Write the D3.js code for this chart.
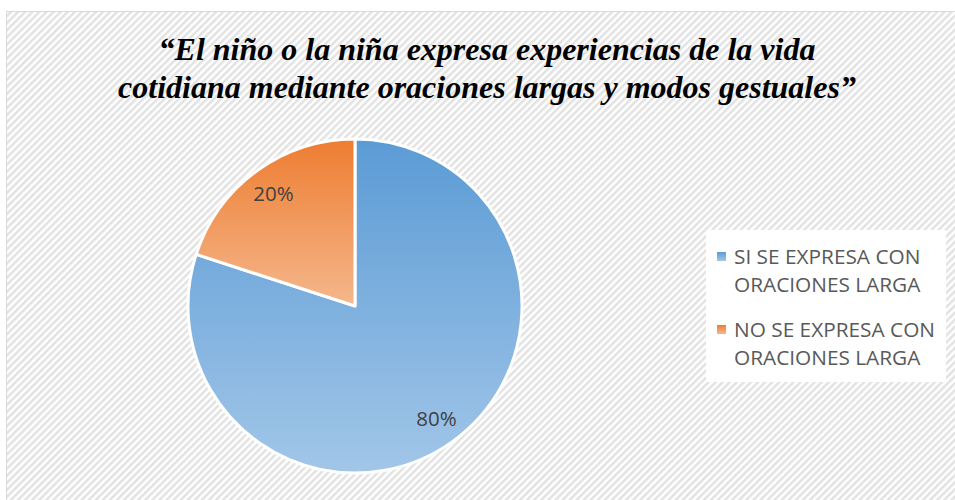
<!DOCTYPE html>
<html><head><meta charset="utf-8">
<script src="https://cdn.jsdelivr.net/npm/d3@7"></script>
<style>body{margin:0;background:#fff}svg{display:block}</style>
</head><body>
<script>
const titleLines = ["“El niño o la niña expresa experiencias de la vida", "cotidiana mediante oraciones largas y modos gestuales”"];
const categories = ["SI SE EXPRESA CON ORACIONES LARGA", "NO SE EXPRESA CON ORACIONES LARGA"];
const legendLines = [["SI SE EXPRESA CON", "ORACIONES LARGA"], ["NO SE EXPRESA CON", "ORACIONES LARGA"]];
const values = [80, 20];
const labels = ["80%", "20%"];
const colorsTop = ["#5b9bd5", "#ed7d31"];
const colorsBottom = ["#a2c6e8", "#f5b78c"];

const W = 955, H = 500;
const svg = d3.select("body").append("svg").attr("width", W).attr("height", H);
const defs = svg.append("defs");
const pat = defs.append("pattern").attr("id", "stripes").attr("patternUnits", "userSpaceOnUse")
  .attr("width", 5).attr("height", 5).attr("patternTransform", "rotate(45)");
pat.append("rect").attr("width", 5).attr("height", 5).attr("fill", "#ffffff");
pat.append("rect").attr("width", 2.5).attr("height", 5).attr("fill", "#e2e2e2");
categories.forEach((c, i) => {
  const g = defs.append("linearGradient").attr("id", "grad" + i).attr("x1", 0).attr("y1", 0).attr("x2", 0).attr("y2", 1);
  g.append("stop").attr("offset", "0%").attr("stop-color", colorsTop[i]);
  g.append("stop").attr("offset", "100%").attr("stop-color", colorsBottom[i]);
});

svg.append("rect").attr("x", 6.5).attr("y", 11.5).attr("width", W).attr("height", H)
  .attr("fill", "url(#stripes)").attr("stroke", "#d9d9d9").attr("stroke-width", 1);

const title = svg.append("text").attr("text-anchor", "middle")
  .attr("font-family", "'Liberation Serif', 'Times New Roman', serif")
  .attr("font-weight", "bold").attr("font-style", "italic").attr("font-size", 32).attr("fill", "#000");
titleLines.forEach((t, i) => title.append("tspan").attr("x", 487).attr("y", 60 + i * 37.5).text(t));

const cx = 355, cy = 306, r = 167;
const pie = d3.pie().sort(null).value(d => d)(values);
const arc = d3.arc().innerRadius(0).outerRadius(r);
const g = svg.append("g").attr("transform", `translate(${cx},${cy})`);
g.selectAll("path").data(pie).join("path")
  .attr("d", arc).attr("fill", (d, i) => `url(#grad${i})`)
  .attr("stroke", "#fff").attr("stroke-width", 3).attr("stroke-linejoin", "round");
const labelArc = d3.arc().innerRadius(r * 0.83).outerRadius(r * 0.83);
g.selectAll("text").data(pie).join("text")
  .attr("transform", d => `translate(${labelArc.centroid(d)})`)
  .attr("text-anchor", "middle").attr("dy", "0.36em")
  .attr("font-family", "'Open Sans', 'Liberation Sans', sans-serif").attr("font-size", 20.5)
  .attr("fill", "#404040").text((d, i) => labels[i]);

const lg = svg.append("g");
lg.append("rect").attr("x", 706).attr("y", 230).attr("width", 240).attr("height", 152).attr("fill", "#fff");
legendLines.forEach((lines, i) => {
  const y0 = 257 + i * 73;
  lg.append("rect").attr("x", 717).attr("y", y0 - 5).attr("width", 9).attr("height", 9)
    .attr("fill", `url(#grad${i})`);
  const t = lg.append("text").attr("font-family", "'Open Sans', 'Liberation Sans', sans-serif")
    .attr("font-size", 20.8).attr("fill", "#595959");
  lines.forEach((l, j) => t.append("tspan").attr("x", 734).attr("y", y0 + 7 + j * 28).text(l));
});
</script>
</body></html>
